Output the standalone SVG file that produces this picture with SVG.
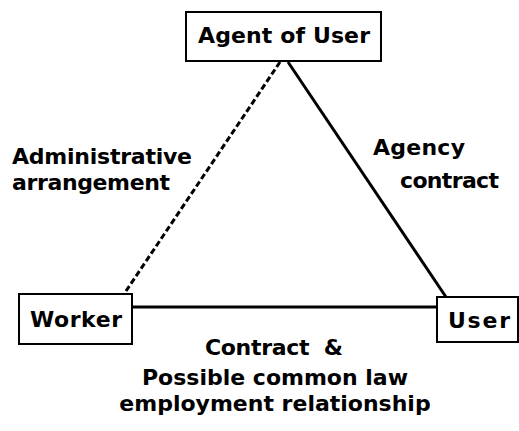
<svg xmlns="http://www.w3.org/2000/svg" width="519" height="431" viewBox="0 0 519 431">
<style>
.box{fill:#fff;stroke:#000;stroke-width:2}
.t{font-family:"DejaVu Sans","Liberation Sans",sans-serif;font-weight:bold;font-size:22px;fill:#000}
.ln{stroke:#000;stroke-width:3;fill:none}
.dash{stroke-dasharray:6 3}
</style>
<rect width="519" height="431" fill="#fff"/>
<g id="connectors">
<line class="ln dash" x1="280" y1="62" x2="124" y2="294"/>
<line class="ln" x1="288" y1="62" x2="446" y2="297"/>
<line class="ln" x1="132" y1="307" x2="437" y2="307"/>
</g>
<g id="agent">
<rect class="box" x="186" y="12" width="195" height="49"/>
<text class="t" x="198" y="43" textLength="172">Agent of User</text>
</g>
<g id="worker">
<rect class="box" x="19" y="294" width="113" height="50"/>
<text class="t" x="30" y="327" textLength="92">Worker</text>
</g>
<g id="user">
<rect class="box" x="437" y="297" width="81" height="45"/>
<text class="t" x="448" y="328" textLength="62">User</text>
</g>
<g id="labels">
<text class="t" x="12" y="164" textLength="180">Administrative</text>
<text class="t" x="12" y="190" textLength="158">arrangement</text>
<text class="t" x="373" y="155" textLength="92">Agency</text>
<text class="t" x="400" y="188" textLength="99">contract</text>
<text class="t" x="205" y="355" textLength="138" xml:space="preserve">Contract  &amp;</text>
<text class="t" x="275" y="385" text-anchor="middle">Possible common law</text>
<text class="t" x="275" y="411" text-anchor="middle">employment relationship</text>
</g>
</svg>
